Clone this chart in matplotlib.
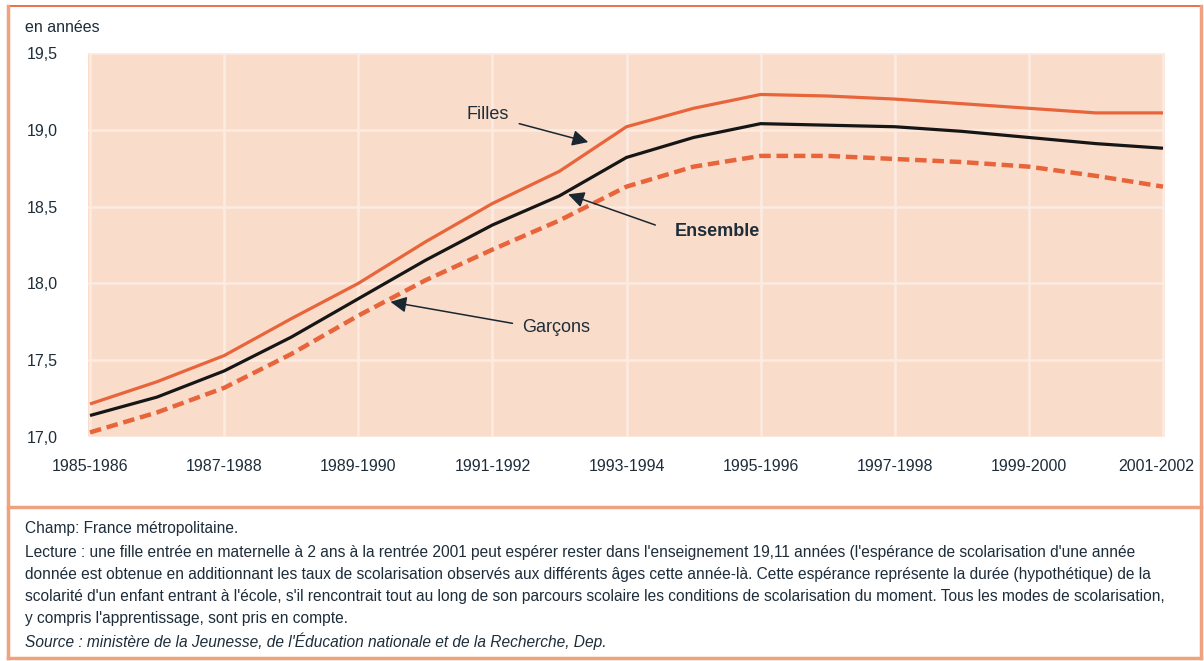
import matplotlib
matplotlib.use("Agg")
import matplotlib.pyplot as plt
from matplotlib.lines import Line2D
import matplotlib.transforms as mtransforms

# ---------------- data ----------------
years = list(range(1985, 2002))
tick_labels = ["1985-1986", "1987-1988", "1989-1990", "1991-1992", "1993-1994",
               "1995-1996", "1997-1998", "1999-2000", "2001-2002"]
filles = [17.215, 17.36, 17.53, 17.77, 18.00, 18.27, 18.52, 18.73, 19.02, 19.14,
          19.23, 19.22, 19.20, 19.17, 19.14, 19.11, 19.11]
ensemble = [17.14, 17.26, 17.43, 17.65, 17.90, 18.15, 18.38, 18.57, 18.82, 18.95,
            19.04, 19.03, 19.02, 18.99, 18.95, 18.91, 18.88]
garcons = [17.03, 17.16, 17.32, 17.54, 17.79, 18.02, 18.22, 18.41, 18.63, 18.76,
           18.83, 18.83, 18.81, 18.79, 18.76, 18.70, 18.63]
yticks = [17.0, 17.5, 18.0, 18.5, 19.0, 19.5]

notes = [
    ("Champ: France métropolitaine.", "normal"),
    ("Lecture : une fille entrée en maternelle à 2 ans à la rentrée 2001 peut espérer rester dans l'enseignement 19,11 années (l'espérance de scolarisation d'une année", "normal"),
    ("donnée est obtenue en additionnant les taux de scolarisation observés aux différents âges cette année-là. Cette espérance représente la durée (hypothétique) de la", "normal"),
    ("scolarité d'un enfant entrant à l'école, s'il rencontrait tout au long de son parcours scolaire les conditions de scolarisation du moment. Tous les modes de scolarisation,", "normal"),
    ("y compris l'apprentissage, sont pris en compte.", "normal"),
    ("Source : ministère de la Jeunesse, de l'Éducation nationale et de la Recherche, Dep.", "italic"),
]

# ---------------- style ----------------
W, H = 1204, 661
ORANGE = "#e8643a"
BORDER = "#f0a27e"
PEACH = "#f9dcca"
GRID = "#fcebe1"
TXT = "#1e2d3a"
plt.rcParams["font.family"] = ["Liberation Sans", "DejaVu Sans"]

fig = plt.figure(figsize=(W / 100, H / 100), dpi=100)

def fx(px):
    return px / W

def fy(py):
    return 1 - py / H

ax = fig.add_axes([fx(88), fy(437), fx(1165) - fx(88), fy(53) - fy(437)])
ax.set_facecolor(PEACH)
x = list(range(len(years)))

ax.plot(x, filles, color=ORANGE, lw=2.3, solid_capstyle="butt", zorder=3)
ax.plot(x, ensemble, color="#161616", lw=2.3, solid_capstyle="butt", zorder=3)
ax.plot(x, garcons, color=ORANGE, lw=3.2, dashes=(2.6, 1.3), zorder=3)

ax.set_xlim(-0.03, 16.03)
ax.set_ylim(17.0, 19.5)
ax.set_xticks(x[::2])
ax.set_xticklabels(tick_labels)
ax.set_yticks(yticks)
ax.set_yticklabels([f"{v:.1f}".replace(".", ",") for v in yticks])
for lab in ax.get_yticklabels():
    lab.set_horizontalalignment("left")
ax.tick_params(axis="y", length=0, pad=44, labelsize=11.5, labelcolor=TXT)
ax.tick_params(axis="x", length=0, pad=16, labelsize=11.5, labelcolor=TXT)
last = ax.get_xticklabels()[-1]
last.set_transform(last.get_transform() +
                   mtransforms.ScaledTranslation(-7 / 100, 0, fig.dpi_scale_trans))
ax.grid(True, color=GRID, lw=1.8)
ax.set_axisbelow(True)
for s in ax.spines.values():
    s.set_visible(False)

# annotations
arrow = dict(arrowstyle="-|>", color="#1a2630", lw=1.1, mutation_scale=24,
             shrinkA=0, shrinkB=0)
ax.annotate("", xy=(7.43, 18.92), xytext=(6.40, 19.04), arrowprops=arrow, zorder=5)
ax.text(5.93, 19.10, "Filles", fontsize=13, color=TXT, ha="center", va="center")
ax.annotate("", xy=(7.13, 18.58), xytext=(8.43, 18.38), arrowprops=arrow, zorder=5)
ax.text(9.36, 18.34, "Ensemble", fontsize=13, fontweight="bold", color=TXT,
        ha="center", va="center")
ax.annotate("", xy=(4.48, 17.88), xytext=(6.30, 17.74), arrowprops=arrow, zorder=5)
ax.text(6.95, 17.71, "Garçons", fontsize=13, color=TXT, ha="center", va="center")

fig.text(fx(25), fy(27), "en années", fontsize=11.5, color=TXT, ha="left", va="center")

# frame lines
fig.add_artist(Line2D([fx(8), fx(1201)], [fy(6), fy(6)], color=ORANGE, lw=1.3))
fig.add_artist(Line2D([fx(8), fx(8)], [fy(6), fy(658)], color=BORDER, lw=2.5))
fig.add_artist(Line2D([fx(1201), fx(1201)], [fy(6), fy(658)], color=BORDER, lw=2.5))
fig.add_artist(Line2D([fx(8), fx(1201)], [fy(658), fy(658)], color=BORDER, lw=2.5))
fig.add_artist(Line2D([fx(8), fx(1201)], [fy(507), fy(507)], color=BORDER, lw=2.5))

# notes
note_y = [528, 552, 574, 597, 619, 641]
for (txt, style), py in zip(notes, note_y):
    fig.text(fx(25), fy(py), txt, fontsize=11.2, color=TXT, style=style,
             ha="left", va="center")

fig.savefig("out.png", dpi=100)
